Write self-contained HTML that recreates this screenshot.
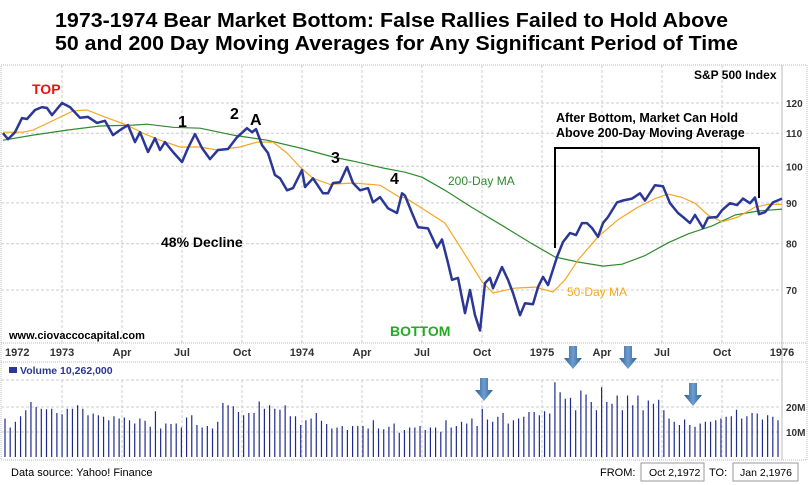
<!DOCTYPE html>
<html><head><meta charset="utf-8"><style>
body{margin:0;background:#fff;}
svg{display:block;font-family:"Liberation Sans",Arial,sans-serif;}
</style></head><body>
<svg id="c" width="810" height="485" viewBox="0 0 810 485">
<defs>
<linearGradient id="ag" x1="0" x2="1" y1="0" y2="0"><stop offset="0" stop-color="#2a5d8f"/><stop offset="0.5" stop-color="#5d8fc0"/><stop offset="1" stop-color="#2a5d8f"/></linearGradient>
</defs>
<text x="55" y="27" font-size="20" font-weight="bold" textLength="673" lengthAdjust="spacingAndGlyphs">1973-1974 Bear Market Bottom:  False Rallies Failed to Hold Above</text>
<text x="55" y="50" font-size="20" font-weight="bold" textLength="683" lengthAdjust="spacingAndGlyphs">50 and 200 Day Moving Averages for Any Significant Period of Time</text>
<g id="grid"></g>
<g id="marks"></g>
<g id="notes"></g>
</svg>
<script>
// Price data: month offsets from Oct 2 1972 and S&P 500 weekly closes
const priceT=[0.05,0.3,0.65,1.0,1.25,1.65,2.0,2.25,2.5,3.0,3.4,3.9,4.3,4.75,5.15,5.55,5.9,6.3,6.65,6.9,7.3,7.65,7.9,8.15,8.55,9.0,9.3,9.65,10.0,10.4,10.8,11.3,11.75,12.25,12.5,12.7,13.0,13.3,13.65,13.9,14.25,14.55,15.0,15.15,15.55,16.05,16.3,16.55,16.9,17.25,17.55,17.9,18.3,18.55,18.9,19.3,19.75,20.0,20.15,20.5,20.8,21.3,21.75,22.0,22.3,22.5,22.8,23.15,23.4,23.65,23.9,24.15,24.4,24.55,25.0,25.3,25.55,25.9,26.15,26.55,26.8,27.05,27.3,27.75,28.05,28.4,28.7,29.0,29.25,29.5,29.8,30.05,30.3,30.75,31.05,31.5,31.9,32.15,32.65,33.05,33.4,33.8,34.05,34.4,34.65,35.05,35.3,35.75,36.0,36.4,36.75,37.05,37.4,37.65,37.85,38.15,38.55,39.0];
const priceV=[110.0,108.1,110.3,114.9,114.6,117.6,118.6,118.3,115.9,120.0,118.6,115.0,115.3,113.3,114.0,109.4,111.0,112.6,107.2,110.3,104.2,108.4,104.8,107.2,104.2,101.2,105.4,109.7,105.4,102.1,104.8,105.1,108.7,111.6,110.3,111.3,106.3,103.9,97.5,96.6,93.3,93.9,98.9,94.2,96.6,92.5,92.5,95.3,95.5,99.8,95.3,93.3,93.9,90.1,91.5,88.6,87.4,92.5,91.9,87.4,83.9,83.6,79.1,81.0,75.7,72.1,72.5,65.5,70.0,65.1,62.3,71.4,72.5,70.4,74.8,72.1,69.4,65.1,67.4,67.2,70.6,72.7,71.0,77.0,80.4,82.5,82.0,84.9,84.9,83.7,81.6,84.9,86.4,90.1,90.6,91.1,92.5,90.6,94.7,94.4,89.9,87.4,86.4,84.9,86.9,83.7,86.2,86.4,88.1,89.9,89.4,91.1,89.9,91.4,87.1,87.6,90.1,91.1];
const ma50T=[0.05,1.05,1.55,2.4,3.55,4.25,5.25,6.25,7.05,7.9,8.9,9.9,10.75,11.9,12.75,13.55,14.25,14.9,15.55,16.4,17.55,18.9,19.9,20.15,21.15,22.15,23.0,24.0,24.55,25.65,26.65,27.55,28.15,28.8,29.8,30.8,31.8,32.65,33.3,34.0,34.65,35.3,36.0,36.8,37.65,38.3,39.0];
const ma50V=[110.3,110.3,111.0,113.6,117.3,117.6,115.0,112.6,110.0,107.8,105.7,105.7,104.8,105.7,107.2,107.2,103.9,99.8,96.6,94.9,95.3,94.7,91.4,91.4,88.1,84.9,78.6,71.7,69.4,70.4,70.6,69.6,72.1,76.3,81.6,85.7,88.9,91.1,92.3,91.4,89.9,86.9,85.2,86.4,88.9,89.6,89.6];
const ma200T=[0.05,1.55,3.25,4.9,6.55,7.25,8.55,9.9,11.55,13.25,14.9,16.55,17.55,19.05,20.15,21.0,22.15,23.5,25.15,26.5,27.65,28.8,30.05,31.0,32.15,33.3,34.3,35.5,36.65,37.8,39.0];
const ma200V=[107.8,109.4,111.0,112.3,112.6,112.9,111.9,111.6,109.4,107.8,105.4,102.7,101.5,99.5,98.3,96.9,93.3,88.8,83.9,80.0,77.0,75.9,75.0,75.4,77.3,80.2,82.3,84.2,86.9,87.9,88.4];
const priceTicks=[120,110,100,90,80,70];
const timeLabels=["1972","1973","Apr","Jul","Oct","1974","Apr","Jul","Oct","1975","Apr","Jul","Oct","1976"];
const timeLabelMonths=[-0.1,3,6,9,12,15,18,21,24,27,30,33,36,39];
// Volume (millions), evenly spaced weekly-ish bars
const volumeV=[15.4,11.8,14.1,16.3,18.7,22,20,19.3,19.1,19.3,17.6,17.1,19.3,19.3,20.7,19.3,16.7,17.4,16.7,16.1,14.7,16.3,15.4,15.8,14.7,13.4,15.4,14.5,12.1,18.3,11.4,13.4,13.2,13.4,11.8,15.8,16.7,12.8,11.8,12.4,11.4,14.1,21.6,20.7,20.3,18,16.7,17.6,17.6,22.2,19.3,20.7,19.3,18.9,20.7,16.3,16.3,12.8,14.7,15.4,17.6,14.5,13.2,11.4,11.8,12.4,10.8,12.4,12.4,12.4,11.4,14.7,11.4,11.1,12.1,13.4,9.7,10.8,11.8,11.8,12.4,10.8,11.8,11.8,10.1,14.7,11.8,12.4,14.1,13.4,15.4,12.4,19.3,15,14.1,16.1,17.6,13.4,14.7,15.4,16.1,18,18,16.7,18.3,17.4,29.9,25.9,23.3,23.7,18.7,26.6,25,22,18.7,27.9,22,21.3,24.6,18.7,24.6,20.7,24.6,18.7,22.6,21.3,22.9,18.7,15.4,14.1,12.8,15,12.8,12.1,13.4,14.1,14.1,14.7,15.4,16.1,16.3,18.9,15.4,16.3,17.6,17.4,15,16.7,16.1,14.7];
const volTicks=[20,10];

const NS="http://www.w3.org/2000/svg";
const X0=2,PX=20,XR=782;
const xT=t=>X0+t*PX;
const yP=v=>103+Math.log10(120/v)*799;
const yV=m=>457-m*2.5;
function mk(tag,attrs,parent){const e=document.createElementNS(NS,tag);for(const k in attrs)e.setAttribute(k,attrs[k]);parent.appendChild(e);return e;}
const grid=document.getElementById('grid'),marks=document.getElementById('marks'),notes=document.getElementById('notes');

// frame
let fr=mk('rect',{x:1,y:65,width:806,height:395,fill:'none',stroke:'#bbb','stroke-dasharray':'1,1'},grid);


mk('line',{x1:XR,y1:65,x2:XR,y2:460,stroke:'#bbb'},grid);
mk('line',{x1:1,y1:343,x2:807,y2:343,stroke:'#bbb','stroke-dasharray':'1,1'},grid);
mk('line',{x1:1,y1:362,x2:807,y2:362,stroke:'#bbb','stroke-dasharray':'1,1'},grid);
mk('line',{x1:1,y1:380,x2:XR,y2:380,stroke:'#ccc','stroke-dasharray':'3,2'},grid);
// vertical grids & time labels
timeLabels.forEach((lb,i)=>{
  const x=xT(timeLabelMonths[i]);
  if(i>0&&i<13){
    mk('line',{x1:x,y1:65,x2:x,y2:343,stroke:'#ccc','stroke-dasharray':'3,2'},grid);
    mk('line',{x1:x,y1:380,x2:x,y2:460,stroke:'#ccc','stroke-dasharray':'3,2'},grid);
  }
  const t=mk('text',{x:i==0?5:x,y:356,'font-size':11,'font-weight':'bold','text-anchor':i==0?'start':'middle',fill:'#333'},grid);
  t.textContent=lb;
  
  
});
priceTicks.forEach(v=>{
  const y=yP(v);
  mk('line',{x1:1,y1:y,x2:XR,y2:y,stroke:'#ccc','stroke-dasharray':'3,2'},grid);
  const t=mk('text',{x:786,y:y+4,'font-size':10,'font-weight':'bold',fill:'#333'},grid);
  t.textContent=v;
  
  
});
volTicks.forEach(v=>{
  const y=yV(v);
  mk('line',{x1:1,y1:y,x2:XR,y2:y,stroke:'#ccc','stroke-dasharray':'3,2'},grid);
  const t=mk('text',{x:786,y:y+4,'font-size':10,'font-weight':'bold',fill:'#333'},grid);
  t.textContent=v+'M';
  
  
});
// volume bars
const vx0=5,vx1=778,step=(vx1-vx0)/(volumeV.length-1);
volumeV.forEach((m,i)=>{
  const x=vx0+i*step;
  const b=mk('line',{x1:x,y1:457,x2:x,y2:yV(m),stroke:'#1f2a8a','stroke-width':1.2},marks);
  
  
});
function line(T,V,color,w,name){
  const d=T.map((t,i)=>(i?'L':'M')+xT(t).toFixed(1)+','+yP(V[i]).toFixed(1)).join('');
  const p=mk('path',{d:d,fill:'none',stroke:color,'stroke-width':w,'stroke-linejoin':'round'},marks);
  
  
}
line(ma200T,ma200V,'#2e8b2e',1.2,'ma200-line');
line(ma50T,ma50V,'#f5a623',1.2,'ma50-line');
line(priceT,priceV,'#2b3795',2.5,'price-line');
</script>
<svg width="0" height="0"></svg>
<div style="position:absolute;left:0;top:0;width:810px;height:485px;pointer-events:none">
<svg width="810" height="485" style="position:absolute;left:0;top:0">
<g font-family="Liberation Sans,Arial,sans-serif" font-weight="bold">
<text x="694" y="79" font-size="12">S&amp;P 500 Index</text>
<text x="32" y="94" font-size="14" fill="#ee1111">TOP</text>
<text x="178" y="127" font-size="16">1</text>
<text x="230" y="119" font-size="16">2</text>
<text x="250" y="125" font-size="16">A</text>
<text x="331" y="163" font-size="16">3</text>
<text x="390" y="184" font-size="16">4</text>
<text x="161" y="247" font-size="14">48% Decline</text>
<text x="390" y="336" font-size="14" fill="#22aa22">BOTTOM</text>
<text x="9" y="339" font-size="11">www.ciovaccocapital.com</text>
<text x="556" y="122" font-size="12.5">After Bottom, Market Can Hold</text>
<text x="556" y="137" font-size="12.5">Above 200-Day Moving Average</text>
<text x="848" y="0" font-size="1"></text>
</g>
<text x="448" y="185" font-size="12" fill="#2e8b2e" font-family="Liberation Sans,Arial,sans-serif">200-Day MA</text>
<text x="567" y="296" font-size="12" fill="#f5a623" font-family="Liberation Sans,Arial,sans-serif">50-Day MA</text>
<path d="M555,248 V148 H759 V198" fill="none" stroke="#000" stroke-width="2"/>
<g fill="url(#ag2)">
<defs><linearGradient id="ag2" x1="0" x2="1"><stop offset="0" stop-color="#2a5d8f"/><stop offset="0.5" stop-color="#6d9dd0"/><stop offset="1" stop-color="#2a5d8f"/></linearGradient></defs>
<path d="M480,378 h8 v12 h5 l-9,11 l-9,-11 h5z"/>
<path d="M569,346 h8 v12 h5 l-9,11 l-9,-11 h5z"/>
<path d="M624,346 h8 v12 h5 l-9,11 l-9,-11 h5z"/>
<path d="M689,383 h8 v12 h5 l-9,11 l-9,-11 h5z"/>
</g>
<rect x="9" y="367" width="8" height="6" fill="#2b3795"/>
<text x="20" y="374" font-size="10.5" font-weight="bold" fill="#2b3795" font-family="Liberation Sans,Arial,sans-serif">Volume 10,262,000</text>
<text x="11" y="476" font-size="11" font-family="Liberation Sans,Arial,sans-serif">Data source:  Yahoo! Finance</text>
<text x="600" y="476" font-size="11" font-family="Liberation Sans,Arial,sans-serif">FROM:</text>
<rect x="641" y="463" width="63" height="18" fill="#fff" stroke="#999"/>
<text x="649" y="476" font-size="10.5" font-family="Liberation Sans,Arial,sans-serif">Oct 2,1972</text>
<text x="709" y="476" font-size="11" font-family="Liberation Sans,Arial,sans-serif">TO:</text>
<rect x="733" y="463" width="65" height="18" fill="#fff" stroke="#999"/>
<text x="740" y="476" font-size="10.5" font-family="Liberation Sans,Arial,sans-serif">Jan 2,1976</text>
</svg></div>
</body></html>
